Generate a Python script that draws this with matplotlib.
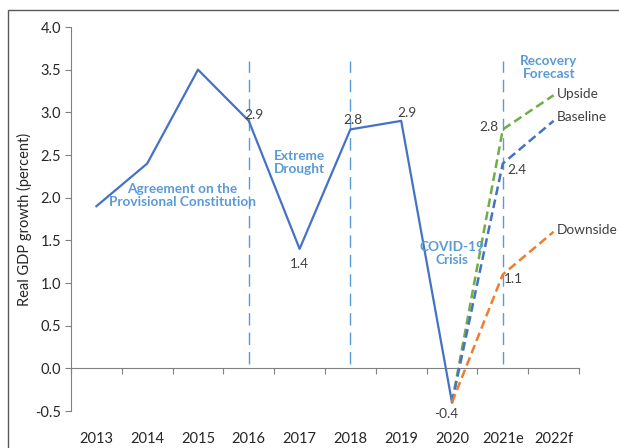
import matplotlib.pyplot as plt
from matplotlib.patches import Rectangle

years = ['2013', '2014', '2015', '2016', '2017', '2018', '2019', '2020', '2021e', '2022f']
actual = [1.9, 2.4, 3.5, 2.9, 1.4, 2.8, 2.9, -0.4]
upside = [-0.4, 2.8, 3.2]
baseline = [-0.4, 2.4, 2.9]
downside = [-0.4, 1.1, 1.6]
event_years = ['2016', '2018', '2021e']

BLUE = '#4472C4'
LIGHT = '#5B9BD5'
GREEN = '#70AD47'
ORANGE = '#ED7D31'
TXT = '#404040'

plt.rcParams['font.family'] = ['Lato', 'DejaVu Sans']

fig = plt.figure(figsize=(6.19, 4.48), dpi=100)
ax = fig.add_axes([71 / 619, 37 / 448, 508 / 619, 384 / 448])

x = list(range(len(years)))
xa = x[:len(actual)]
xf = x[len(actual) - 1:]

# event markers
for ev in event_years:
    ax.plot([years.index(ev)] * 2, [0.05, 3.6], color=LIGHT, lw=1.0,
            dashes=(9, 5), zorder=1)

ax.plot(xa, actual, color=BLUE, lw=1.6, zorder=3)
ax.plot(xf, upside, color=GREEN, lw=1.8, dashes=(3.5, 1.8), zorder=3)
ax.plot(xf, baseline, color=BLUE, lw=1.8, dashes=(3.5, 1.8), zorder=3)
ax.plot(xf, downside, color=ORANGE, lw=1.8, dashes=(3.5, 1.8), zorder=3)

fs = 9.8
def lab(xi, yi, s, dx, dy, ha='center'):
    ax.annotate(s, (xi, yi), xytext=(dx, dy), textcoords='offset points',
                ha=ha, va='center', fontsize=fs, color=TXT)

lab(3, actual[3], '2.9', 4, 4)
lab(4, actual[4], '1.4', 0, -11)
lab(5, actual[5], '2.8', 2, 7)
lab(6, actual[6], '2.9', 4, 6)
lab(7, actual[7], '-0.4', -4, -8)
lab(8, upside[1], '2.8', -10, 2)
lab(8, baseline[1], '2.4', 10, -5)
lab(8, downside[1], '1.1', 8, -3)
lab(9, upside[2], 'Upside', 2, 1, ha='left')
lab(9, baseline[2], 'Baseline', 2, 3, ha='left')
lab(9, downside[2], 'Downside', 2, 1, ha='left')

ann = dict(ha='center', va='center', fontsize=fs, color=LIGHT,
           fontweight='bold', linespacing=1.1)
ax.text(1.69, 2.03, 'Agreement on the\nProvisional Constitution', **ann)
ax.text(4.0, 2.41, 'Extreme\nDrought', **ann)
ax.text(7.0, 1.35, 'COVID-19\nCrisis', **ann)
ax.text(8.91, 3.53, 'Recovery\nForecast', **ann)

ax.set_xlim(-0.5, len(years) - 0.5)
ax.set_ylim(-0.5, 4.0)
ax.set_yticks([i * 0.5 - 0.5 for i in range(10)])
ax.yaxis.set_major_formatter(plt.FormatStrFormatter('%.1f'))
ax.tick_params(axis='y', direction='out', length=4, color='#808080',
               labelsize=10.5, labelcolor='#262626', pad=3)

for s in ['top', 'right']:
    ax.spines[s].set_visible(False)
ax.spines['left'].set_color('#808080')
ax.spines['bottom'].set_position(('data', 0))
ax.spines['bottom'].set_color('#808080')
ax.set_xticks([i + 0.5 for i in range(-1, len(years))])
ax.set_xticklabels([])
ax.tick_params(axis='x', direction='out', length=4, color='#808080')

sec = ax.secondary_xaxis('bottom')
sec.set_xticks(x)
sec.set_xticklabels(years)
sec.spines['bottom'].set_visible(False)
sec.tick_params(length=0, labelsize=10.5, labelcolor='#262626', pad=15)

ax.set_ylabel('Real GDP growth (percent)', fontsize=10.5, color='#262626',
              labelpad=2)

fig.patches.append(Rectangle((8 / 619, -0.1), 1.2, (448 - 10) / 448 + 0.1,
                             transform=fig.transFigure, fill=False,
                             edgecolor='#595959', lw=1.0))

fig.savefig('out.png', dpi=100)
